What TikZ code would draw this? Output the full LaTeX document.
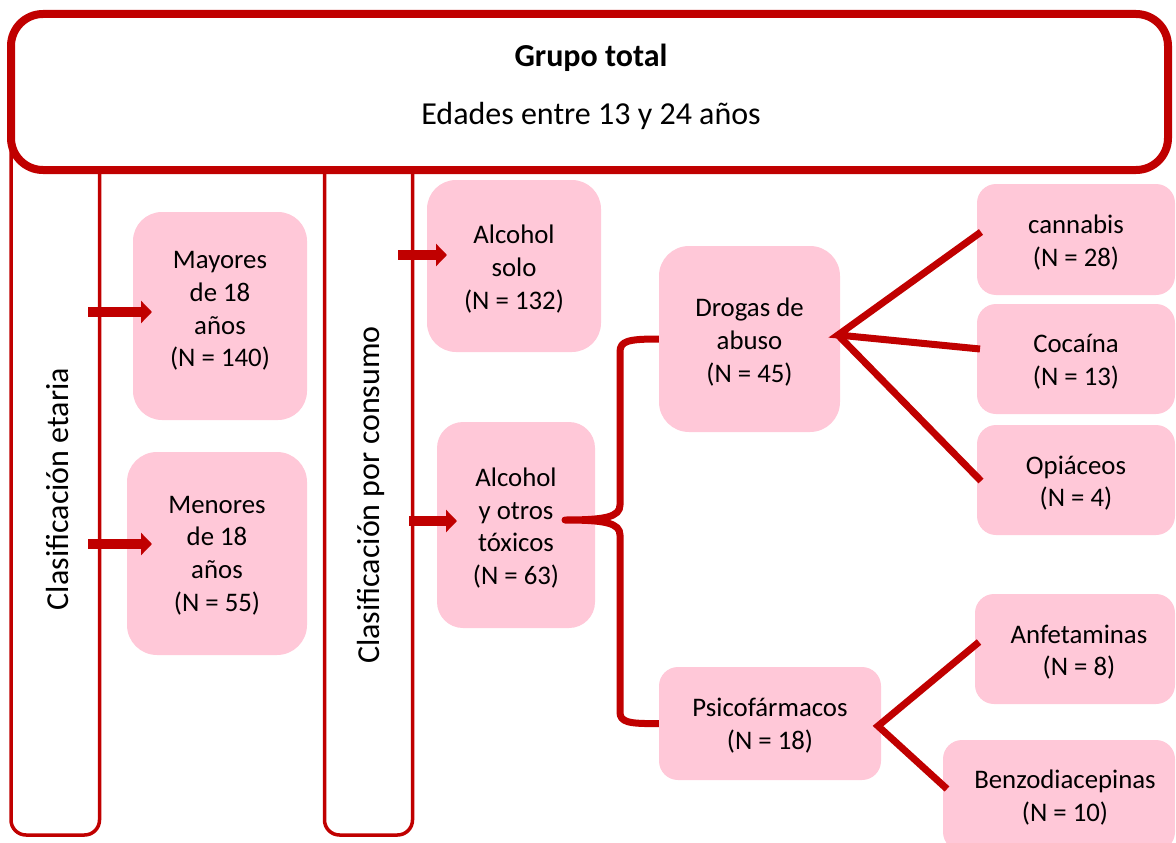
\documentclass[tikz,border=0pt]{standalone}
\usepackage{fontspec}
\setmainfont{Carlito}
\usetikzlibrary{arrows.meta}
\definecolor{dred}{HTML}{C00000}
\definecolor{lpink}{HTML}{FFC8D8}
\begin{document}
\begin{tikzpicture}[x=1pt,y=-1pt,
  txt/.style={font=\fontsize{26.8}{32.6}\selectfont, align=center, text=black, inner sep=0pt},
  bigtxt/.style={font=\fontsize{32}{38}\selectfont, align=center, text=black, inner sep=0pt},
  pbox/.style={fill=lpink, draw=none, rounded corners=#1, inner sep=0pt},
  vbox/.style={draw=dred, line width=3.5pt, rounded corners=15pt, fill=none},
  topbox/.style={draw=dred, line width=8pt, rounded corners=32pt, fill=white},
  blockarrow/.style={draw=dred, line width=10pt, -{Triangle[width=22pt,length=11pt]}},
  brace/.style={draw=dred, line width=7pt, line join=round},
  fan/.style={draw=dred, line width=7pt}
]
\useasboundingbox (0,0) rectangle (1176,843);

% vertical classification frames
\node[vbox, minimum width=88.5pt, minimum height=735pt] (vb1) at (55.25,467.5) {};
\node[vbox, minimum width=88pt, minimum height=735pt] (vb2) at (368.5,467.5) {};
\node[bigtxt, rotate=90] (lab1) at (58,489) {Clasificación etaria};
\node[bigtxt, rotate=90] (lab2) at (371,495) {Clasificación por consumo};

% top box
\node[topbox, minimum width=1157pt, minimum height=156pt] (top) at (589.5,92) {};
\node[bigtxt] (t1) at (591,58) {\bfseries Grupo total};
\node[bigtxt] (t2) at (591,116) {Edades entre 13 y 24 años};

% pink boxes
\node[pbox=29pt, minimum width=174pt, minimum height=208pt] (may) at (220,316) {};
\node[pbox=30pt, minimum width=180pt, minimum height=203pt] (men) at (217,553.5) {};
\node[pbox=29pt, minimum width=174pt, minimum height=172pt] (als) at (514,266) {};
\node[pbox=26pt, minimum width=158pt, minimum height=206pt] (ayo) at (516,525) {};
\node[pbox=30pt, minimum width=181pt, minimum height=186pt] (dro) at (749.5,339) {};
\node[pbox=19pt, minimum width=222pt, minimum height=113pt] (psi) at (770,723.5) {};
\node[pbox=19pt, minimum width=198pt, minimum height=111pt] (can) at (1076,239.5) {};
\node[pbox=19pt, minimum width=198pt, minimum height=110pt] (coc) at (1076,359) {};
\node[pbox=19pt, minimum width=198pt, minimum height=110pt] (opi) at (1076,480) {};
\node[pbox=19pt, minimum width=200pt, minimum height=110pt] (anf) at (1075,649) {};
\node[pbox=19pt, minimum width=232pt, minimum height=111pt] (ben) at (1059,795.5) {};

% box texts
\node[txt] (may-t) at ([yshift=5pt]may.center) {Mayores\\de 18\\años\\(N = 140)};
\node[txt] (men-t) at ([yshift=-2pt]men.center) {Menores\\de 18\\años\\(N = 55)};
\node[txt] (als-t) at ([yshift=-3pt]als.center) {Alcohol\\solo\\(N = 132)};
\node[txt] (ayo-t) at ([yshift=-3pt]ayo.center) {Alcohol\\y otros\\tóxicos\\(N = 63)};
\node[txt] (dro-t) at ([yshift=-3pt]dro.center) {Drogas de\\abuso\\(N = 45)};
\node[txt] (psi-t) at ([yshift=-2pt]psi.center) {Psicofármacos\\(N = 18)};
\node[txt] (can-t) at ([yshift=-3pt]can.center) {cannabis\\(N = 28)};
\node[txt] (coc-t) at ([yshift=-3pt]coc.center) {Cocaína\\(N = 13)};
\node[txt] (opi-t) at ([yshift=-3pt]opi.center) {Opiáceos\\(N = 4)};
\node[txt] (anf-t) at ([yshift=-3pt,xshift=4pt]anf.center) {Anfetaminas\\(N = 8)};
\node[txt] (ben-t) at ([yshift=-2pt,xshift=6pt]ben.center) {Benzodiacepinas\\(N = 10)};

% brace from "Alcohol y otros tóxicos"
\coordinate (bt) at (565,520);
\draw[brace] (dro.west) .. controls (628,339) and (620,341) .. (620,352)
  -- (620,505) .. controls (620,517) and (605,520) .. (bt)
  .. controls (605,520) and (620,523) .. (620,535)
  -- (620,712) .. controls (620,722) and (628,724) .. (psi.west);

% fans
\coordinate (dv) at (838,335);
\coordinate (ecan) at (981,232);
\coordinate (ecoc) at (980,349);
\coordinate (eopi) at (981,481);
\draw[fan] (ecan) -- (dv) -- (ecoc);
\draw[fan] (dv) -- (eopi);
\coordinate (pv) at (878,726);
\coordinate (eanf) at (979,642);
\coordinate (eben) at (947,789);
\draw[fan] (eanf) -- (pv) -- (eben);

% block arrows
\coordinate (s1) at (88,312);  \coordinate (f1) at (152,312);
\coordinate (s2) at (88,544);  \coordinate (f2) at (152,544);
\coordinate (s3) at (398,255); \coordinate (f3) at (447,255);
\coordinate (s4) at (409,521); \coordinate (f4) at (457,521);
\draw[blockarrow] (s1) -- (f1);
\draw[blockarrow] (s2) -- (f2);
\draw[blockarrow] (s3) -- (f3);
\draw[blockarrow] (s4) -- (f4);
\end{tikzpicture}
\end{document}
